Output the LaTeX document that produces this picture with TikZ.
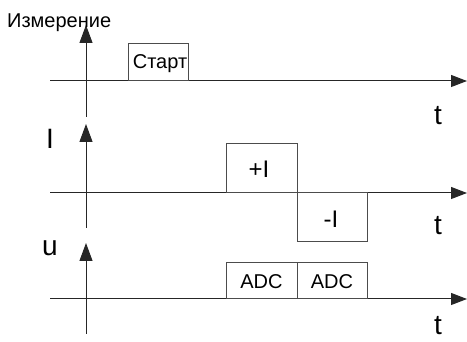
\documentclass[tikz,border=0pt]{standalone}
\usepackage{fontspec}
\setmainfont{Liberation Sans}
\usetikzlibrary{arrows.meta}
\begin{document}
\begin{tikzpicture}[x=1pt,y=-1pt,
  axis/.style={line width=1pt, draw=black!85},
  harrow/.style={axis, -{Triangle[length=16pt,width=12pt]}},
  varrow/.style={axis, -{Triangle[length=18pt,width=13pt]}},
  pulse/.style={draw=black!70, line width=1pt},
  lbl/.style={inner sep=0pt, font=\fontsize{28}{30}\selectfont},
  small/.style={inner sep=0pt, font=\fontsize{20}{22}\selectfont}]
\useasboundingbox (0,0) rectangle (467,342);
% top
\coordinate (h1s) at (50,81); \coordinate (h1e) at (467,81);
\coordinate (v1s) at (86,117); \coordinate (v1e) at (86,25);
\draw[harrow] (h1s) -- (h1e);
\draw[varrow] (v1s) -- (v1e);
\draw[pulse] (128,44) rectangle (188,81);
\node[small] (start) at (160,64) {Старт};
\node[small, anchor=base west] (meas) at (7,28) {Измерение};
\node[lbl] (t1) at (438,116) {t};
% middle
\coordinate (h2s) at (50,193); \coordinate (h2e) at (467,193);
\coordinate (v2s) at (86,228); \coordinate (v2e) at (86,124);
\draw[harrow] (h2s) -- (h2e);
\draw[varrow] (v2s) -- (v2e);
\draw[pulse] (226,144) rectangle (297,193);
\draw[pulse] (297,193) rectangle (367,242);
\node[inner sep=0pt, font=\fontsize{24}{26}\selectfont] (plusI) at (259,169) {+I};
\node[inner sep=0pt, font=\fontsize{24}{26}\selectfont] (minusI) at (331,219) {-I};
\node[lbl] (I) at (50,139) {I};
\node[lbl] (t2) at (438,226) {t};
% bottom
\coordinate (h3s) at (50,299); \coordinate (h3e) at (467,299);
\coordinate (v3s) at (86,334); \coordinate (v3e) at (86,243);
\draw[harrow] (h3s) -- (h3e);
\draw[varrow] (v3s) -- (v3e);
\draw[pulse] (226,263) rectangle (297,299);
\draw[pulse] (297,263) rectangle (367,299);
\node[inner sep=0pt, font=\fontsize{20}{22}\selectfont] (adc1) at (261.5,282) {ADC};
\node[inner sep=0pt, font=\fontsize{20}{22}\selectfont] (adc2) at (332,282) {ADC};
\node[lbl] (u) at (50,248) {u};
\node[lbl] (t3) at (438,326) {t};
\end{tikzpicture}
\end{document}
